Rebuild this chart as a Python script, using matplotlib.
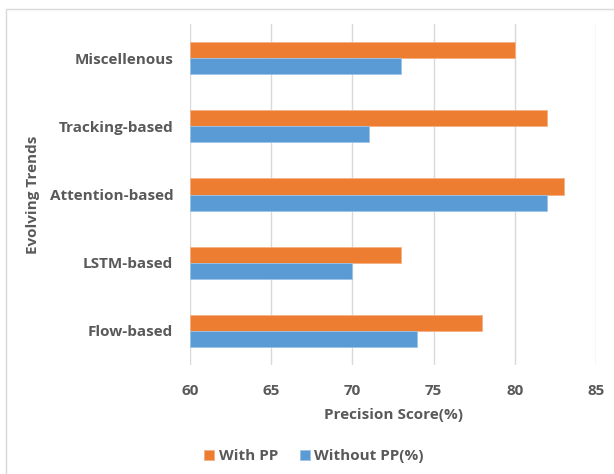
import numpy as np
import matplotlib.pyplot as plt
from matplotlib.patches import Rectangle

# precision scores per trend
trends = ['Flow-based', 'LSTM-based', 'Attention-based', 'Tracking-based', 'Miscellenous']
with_pp = [78, 73, 83, 82, 80]
without_pp = [74, 70, 82, 71, 73]

orange = '#ED7D31'
blue = '#5B9BD5'
txt = '#595959'

plt.rcParams['font.family'] = ['Open Sans', 'DejaVu Sans']
plt.rcParams['font.weight'] = 'bold'

fig = plt.figure(figsize=(6.14, 4.74), dpi=100)
ax = fig.add_axes([190/614, 1-365/474, 406/614, 341/474])

y = np.arange(len(trends))
h = 0.235
ax.barh(y + h/2, np.array(with_pp) - 60, height=h, left=60, color=orange,
        edgecolor='#F4B183', linewidth=0.6, label='With PP', zorder=3)
ax.barh(y - h/2, np.array(without_pp) - 60, height=h, left=60, color=blue,
        edgecolor='#9DC3E6', linewidth=0.6, label='Without PP(%)', zorder=3)

ax.set_xlim(60, 85)
ax.set_ylim(-0.5, 4.5)
ax.set_xticks(range(60, 86, 5))
ax.set_yticks(y)
ax.set_yticklabels(trends)
ax.grid(axis='x', color='#D9D9D9', linewidth=1, zorder=0)
for s in ax.spines.values():
    s.set_visible(False)
ax.tick_params(length=0, colors=txt, labelsize=11)
ax.tick_params(axis='x', pad=14)
ax.tick_params(axis='y', pad=12)

ax.set_xlabel('Precision Score(%)', color=txt, fontsize=11, fontweight='bold', labelpad=7)
fig.text(33/614, 1-195/474, 'Evolving Trends', rotation=90, color=txt,
         fontsize=11, fontweight='bold', ha='center', va='center')

leg = fig.legend(loc='center', bbox_to_anchor=(314/614, 1-456/474), ncol=2, frameon=False,
                 fontsize=11, handlelength=0.65, handleheight=0.65, handletextpad=0.3,
                 columnspacing=1.4)
for t in leg.get_texts():
    t.set_color(txt)

# outer chart frame
fig.patches.append(Rectangle((6/614, -0.01), 1.0, 1-9/474 + 0.01, transform=fig.transFigure,
                             fill=False, edgecolor='#D9D9D9', linewidth=1))

fig.savefig('out.png', dpi=100)
